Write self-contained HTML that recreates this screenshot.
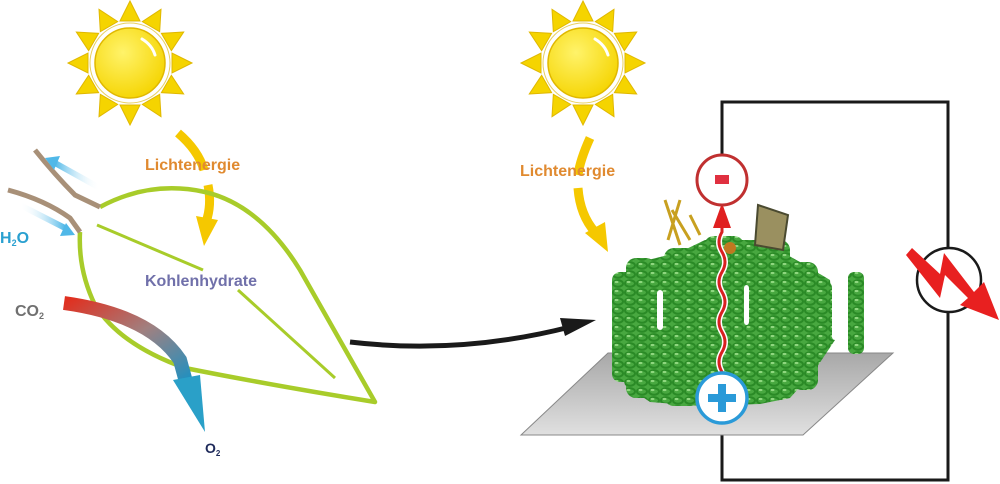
<!DOCTYPE html>
<html><head><meta charset="utf-8"><style>
html,body{margin:0;padding:0;background:#fff}
svg{display:block}
text{font-family:"Liberation Sans",sans-serif;font-weight:bold}
</style></head><body>
<svg width="1000" height="484" viewBox="0 0 1000 484" xmlns="http://www.w3.org/2000/svg">
<defs>
<radialGradient id="sun" cx="0.4" cy="0.35" r="0.7"><stop offset="0" stop-color="#fff36a"/><stop offset="1" stop-color="#f5d400"/></radialGradient>
<linearGradient id="co2" x1="0" y1="0" x2="1" y2="1"><stop offset="0" stop-color="#e03020"/><stop offset="0.5" stop-color="#a08080"/><stop offset="1" stop-color="#2090c0"/></linearGradient>
<linearGradient id="plate" x1="0" y1="0" x2="0" y2="1"><stop offset="0" stop-color="#a8a8a8"/><stop offset="1" stop-color="#e0e0e0"/></linearGradient>
<linearGradient id="h2o" x1="1" y1="0" x2="0" y2="0"><stop offset="0" stop-color="#fff" stop-opacity="0"/><stop offset="1" stop-color="#50b8e8"/></linearGradient>
<linearGradient id="h2o2" x1="0" y1="0" x2="1" y2="0"><stop offset="0" stop-color="#fff" stop-opacity="0"/><stop offset="1" stop-color="#50b8e8"/></linearGradient>
<pattern id="hel" width="12" height="9" patternUnits="userSpaceOnUse">
<rect width="12" height="9" fill="#48a840"/>
<ellipse cx="6" cy="4.5" rx="5" ry="3.2" fill="none" stroke="#2a8a26" stroke-width="2"/>
<ellipse cx="4.5" cy="3" rx="2" ry="1.1" fill="#90d880"/>
</pattern>
<g id="sunG">
<g fill="#f5d400" stroke="#e0b800" stroke-width="1">
<polygon points="0,-62 -10,-42 10,-42"/>
<polygon points="0,-62 -10,-42 10,-42" transform="rotate(30)"/>
<polygon points="0,-62 -10,-42 10,-42" transform="rotate(60)"/>
<polygon points="0,-62 -10,-42 10,-42" transform="rotate(90)"/>
<polygon points="0,-62 -10,-42 10,-42" transform="rotate(120)"/>
<polygon points="0,-62 -10,-42 10,-42" transform="rotate(150)"/>
<polygon points="0,-62 -10,-42 10,-42" transform="rotate(180)"/>
<polygon points="0,-62 -10,-42 10,-42" transform="rotate(210)"/>
<polygon points="0,-62 -10,-42 10,-42" transform="rotate(240)"/>
<polygon points="0,-62 -10,-42 10,-42" transform="rotate(270)"/>
<polygon points="0,-62 -10,-42 10,-42" transform="rotate(300)"/>
<polygon points="0,-62 -10,-42 10,-42" transform="rotate(330)"/>
</g>
<circle r="40" fill="#fff" stroke="#e8d060" stroke-width="1"/>
<circle r="35" fill="url(#sun)" stroke="#e0b800" stroke-width="1.5"/>
<path d="M12,-24 Q22,-18 25,-8" stroke="#fff" stroke-width="3" fill="none" stroke-linecap="round"/>
</g>
</defs>

<use href="#sunG" x="130" y="63"/>
<path d="M178,133 Q198,150 204,170" stroke="#f5c800" stroke-width="9" fill="none"/>
<path d="M208,185 Q212,205 206,222" stroke="#f5c800" stroke-width="9" fill="none"/>
<polygon points="196,216 218,220 204,246" fill="#f5c800"/>
<text x="145" y="170" font-size="16" fill="#e08a30">Lichtenergie</text>

<path d="M100,207 Q150,180 205,192 Q260,205 300,270 Q340,340 375,402 Q270,385 185,368 Q120,345 95,305 Q78,270 80,232" fill="none" stroke="#a8cc2a" stroke-width="4.5" stroke-linejoin="round"/>
<path d="M97,225 L203,270" stroke="#a8cc2a" stroke-width="3"/>
<path d="M238,290 L335,378" stroke="#a8cc2a" stroke-width="3"/>
<path d="M35,150 Q55,175 75,195 L100,207" fill="none" stroke="#a89078" stroke-width="5"/>
<path d="M8,190 Q45,200 70,218 L80,232" fill="none" stroke="#a89078" stroke-width="5"/>
<path d="M100,188 L55,163" stroke="url(#h2o)" stroke-width="6"/>
<polygon points="45,158 60,156 54,170" fill="#50b8e8"/>
<path d="M20,205 L65,228" stroke="url(#h2o2)" stroke-width="6"/>
<polygon points="75,235 60,236 66,223" fill="#50b8e8"/>
<text x="0" y="243" font-size="16" fill="#2aa0d0">H<tspan font-size="9" dy="3">2</tspan><tspan dy="-3">O</tspan></text>
<text x="145" y="286" font-size="16" fill="#7070aa">Kohlenhydrate</text>
<text x="15" y="316" font-size="16" fill="#707070">CO<tspan font-size="9" dy="3">2</tspan></text>
<text x="205" y="453" font-size="14" fill="#1e2a5a">O<tspan font-size="8" dy="3">2</tspan></text>
<path d="M64,303 Q150,315 180,360 L186,382" fill="none" stroke="url(#co2)" stroke-width="14"/>
<polygon points="173,380 200,375 205,432" fill="#2aa0c8"/>

<path d="M350,342 Q460,355 570,327" fill="none" stroke="#1a1a1a" stroke-width="5"/>
<polygon points="560,318 596,320 565,336" fill="#1a1a1a"/>

<use href="#sunG" x="583" y="63"/>
<path d="M590,138 Q580,160 578,175" stroke="#f5c800" stroke-width="9" fill="none"/>
<path d="M578,188 Q580,215 595,232" stroke="#f5c800" stroke-width="9" fill="none"/>
<polygon points="585,233 605,222 608,252" fill="#f5c800"/>
<text x="520" y="176" font-size="16" fill="#e08a30">Lichtenergie</text>

<path d="M722,155 V102 H948 V480 H722 V422" fill="none" stroke="#1a1a1a" stroke-width="3"/>

<polygon points="521,435 608,353 893,353 803,435" fill="url(#plate)" stroke="#888" stroke-width="1"/>

<!-- protein -->
<path d="M615,280 L640,262 L680,252 L705,240 L760,240 L800,262 L830,280 L835,340 L815,370 L790,398 L760,404 L700,406 L650,402 L625,385 L612,340 Z" fill="url(#hel)"/>
<g fill="url(#hel)">
<rect x="612" y="272" width="22" height="110" rx="8"/>
<rect x="626" y="258" width="30" height="140" rx="10"/>
<rect x="664" y="248" width="36" height="158" rx="10"/>
<rect x="704" y="236" width="40" height="170" rx="10"/>
<rect x="748" y="240" width="42" height="160" rx="10"/>
<rect x="792" y="262" width="26" height="128" rx="10"/>
<rect x="810" y="280" width="22" height="60" rx="8"/>
<rect x="848" y="272" width="16" height="82" rx="6"/>
</g>
<g fill="#fff">
<rect x="657" y="290" width="6" height="40" rx="3"/>
<rect x="744" y="285" width="5" height="40" rx="3"/>
<rect x="832" y="290" width="14" height="50" rx="3"/>
</g>
<g fill="none" stroke="#c8a020" stroke-width="3">
<path d="M665,200 L680,245 M672,210 L690,240 M680,200 L668,240 M690,215 L700,235"/>
</g>
<path d="M758,205 L788,215 L783,250 L755,245 Z" fill="#9a9060" stroke="#4a4a30" stroke-width="2"/>
<circle cx="730" cy="248" r="6" fill="#c07820"/>

<path d="M722,372 q-6,-10 0,-20 q6,-10 0,-20 q-6,-10 0,-20 q6,-10 0,-20 q-6,-10 0,-20 q6,-10 0,-20 q-6,-10 0,-20 l0,-18" fill="none" stroke="#fff" stroke-width="6"/>
<path d="M722,372 q-6,-10 0,-20 q6,-10 0,-20 q-6,-10 0,-20 q6,-10 0,-20 q-6,-10 0,-20 q6,-10 0,-20 q-6,-10 0,-20 l0,-18" fill="none" stroke="#d82020" stroke-width="3"/>
<polygon points="722,203 713,228 731,228" fill="#e02020"/>

<circle cx="722" cy="180" r="25" fill="#fff" stroke="#c03030" stroke-width="3"/>
<rect x="715" y="175" width="14" height="9" fill="#e03040"/>
<circle cx="722" cy="398" r="25" fill="#fff" stroke="#2a9ad8" stroke-width="3.5"/>
<rect x="718" y="384" width="8" height="28" fill="#2a9ad8"/>
<rect x="708" y="394" width="28" height="8" fill="#2a9ad8"/>

<circle cx="949" cy="280" r="32" fill="#fff" stroke="#1a1a1a" stroke-width="2.5"/>
<polygon points="906,255 912,248 940,274 944,253 974,292 984,282 999,320 960,305 968,298 945,275 940,298" fill="#e82020"/>
</svg>
</body></html>
